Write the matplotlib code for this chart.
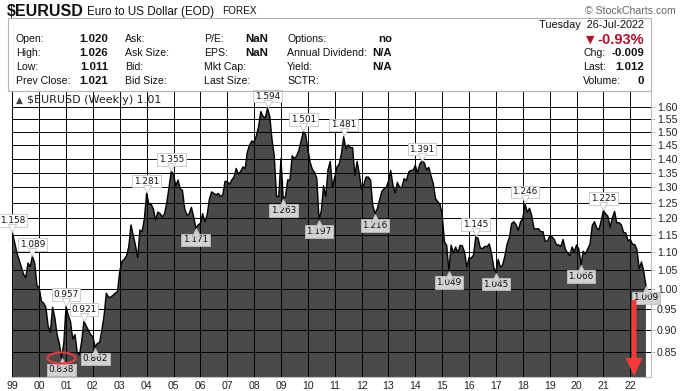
import matplotlib
matplotlib.use('Agg')

import matplotlib.pyplot as plt
import matplotlib.transforms as mtransforms
from matplotlib.patches import Rectangle, Ellipse, FancyArrowPatch, ArrowStyle
from matplotlib.ticker import NullLocator, FixedLocator

W, H = 682, 391

# EURUSD weekly close, read off the chart once a month:
# first value = first week of Jan 1999, then month-end closes up to Jul 2022
FIRST_YEAR = 1999
closes = [
    1.158,
    1.130, 1.100, 1.080, 1.060, 1.040, 1.030, 1.070, 1.060, 1.089, 1.070, 1.010, 1.005,  # 1999
    0.970, 0.965, 0.955, 0.910, 0.895, 0.955, 0.930, 0.890, 0.870, 0.838, 0.870, 0.957,  # 2000
    0.935, 0.920, 0.880, 0.890, 0.850, 0.845, 0.875, 0.921, 0.910, 0.900, 0.890, 0.885,  # 2001
    0.862, 0.870, 0.872, 0.900, 0.935, 0.990, 0.980, 0.980, 0.985, 0.990, 0.995, 1.048,  # 2002
    1.075, 1.080, 1.090, 1.115, 1.180, 1.150, 1.120, 1.085, 1.165, 1.160, 1.200, 1.281,  # 2003
    1.245, 1.245, 1.230, 1.195, 1.220, 1.215, 1.205, 1.215, 1.250, 1.300, 1.355, 1.345,  # 2004
    1.305, 1.325, 1.295, 1.290, 1.230, 1.210, 1.215, 1.235, 1.205, 1.171, 1.180, 1.185,  # 2005
    1.215, 1.190, 1.210, 1.260, 1.285, 1.280, 1.275, 1.280, 1.270, 1.275, 1.320, 1.320,  # 2006
    1.310, 1.325, 1.335, 1.365, 1.345, 1.355, 1.370, 1.365, 1.425, 1.450, 1.465, 1.460,  # 2007
    1.485, 1.520, 1.580, 1.560, 1.555, 1.594, 1.560, 1.470, 1.410, 1.270, 1.270, 1.400,  # 2008
    1.263, 1.270, 1.325, 1.325, 1.410, 1.400, 1.410, 1.430, 1.465, 1.501, 1.490, 1.435,  # 2009
    1.387, 1.362, 1.351, 1.330, 1.197, 1.223, 1.305, 1.270, 1.360, 1.390, 1.300, 1.335,  # 2010
    1.370, 1.380, 1.418, 1.481, 1.435, 1.450, 1.440, 1.440, 1.340, 1.390, 1.345, 1.295,  # 2011
    1.310, 1.335, 1.335, 1.325, 1.240, 1.216, 1.230, 1.258, 1.285, 1.296, 1.300, 1.320,  # 2012
    1.358, 1.307, 1.282, 1.317, 1.300, 1.300, 1.330, 1.322, 1.352, 1.358, 1.359, 1.376,  # 2013
    1.349, 1.381, 1.391, 1.385, 1.360, 1.369, 1.339, 1.313, 1.263, 1.253, 1.245, 1.210,  # 2014
    1.130, 1.120, 1.049, 1.120, 1.098, 1.115, 1.098, 1.120, 1.118, 1.100, 1.058, 1.086,  # 2015
    1.083, 1.093, 1.145, 1.140, 1.113, 1.110, 1.117, 1.116, 1.124, 1.098, 1.059, 1.045,  # 2016
    1.080, 1.058, 1.065, 1.090, 1.124, 1.142, 1.184, 1.190, 1.181, 1.164, 1.190, 1.200,  # 2017
    1.246, 1.219, 1.232, 1.208, 1.169, 1.168, 1.169, 1.160, 1.160, 1.131, 1.133, 1.146,  # 2018
    1.145, 1.137, 1.122, 1.121, 1.117, 1.137, 1.108, 1.099, 1.090, 1.115, 1.102, 1.121,  # 2019
    1.109, 1.066, 1.103, 1.095, 1.110, 1.123, 1.178, 1.190, 1.172, 1.165, 1.193, 1.225,  # 2020
    1.214, 1.207, 1.173, 1.202, 1.222, 1.186, 1.187, 1.181, 1.158, 1.156, 1.133, 1.137,  # 2021
    1.123, 1.122, 1.107, 1.054, 1.073, 1.048, 1.009,                                      # 2022
]

# indices into closes that carry a value label
peak_idx = [0, 9, 24, 32, 60, 71, 114, 130, 148, 183, 207, 229, 264]
trough_idx = [22, 37, 82, 121, 137, 162, 195, 216, 254, 283]

y_ticks = [0.85, 0.90, 0.95, 1.00, 1.05, 1.10, 1.15, 1.20, 1.25,
           1.30, 1.35, 1.40, 1.45, 1.50, 1.55, 1.60]
year_labels = ['99', '00', '01', '02', '03', '04', '05', '06', '07', '08', '09', '10',
               '11', '12', '13', '14', '15', '16', '17', '18', '19', '20', '21', '22']

header_rows = [
    ('Open:', '1.020', 'Ask:', 'P/E:', 'NaN', 'Options:', 'no'),
    ('High:', '1.026', 'Ask Size:', 'EPS:', 'NaN', 'Annual Dividend:', 'N/A'),
    ('Low:', '1.011', 'Bid:', 'Mkt Cap:', '', 'Yield:', 'N/A'),
    ('Prev Close:', '1.021', 'Bid Size:', 'Last Size:', '', 'SCTR:', ''),
]

times = [FIRST_YEAR + k / 12.0 for k in range(len(closes))]

ARIAL = ['Liberation Sans', 'DejaVu Sans']

fig = plt.figure(figsize=(W / 100, H / 100), dpi=100)


def px(x, y):
    return x / W, 1 - y / H


def txt(x, y, s, **kw):
    kw.setdefault('va', 'center')
    kw.setdefault('family', ARIAL)
    kw.setdefault('color', '#111111')
    fig.text(*px(x, y), s, **kw)


# ---- header ----
LAB, VAL = 7.6, 8.2
txt(7, 11, '$EURUSD', fontsize=11.5, weight='bold')
txt(87, 11.5, 'Euro to US Dollar (EOD)', fontsize=8.4)
txt(222, 11.5, 'FOREX', fontsize=7.2)
txt(676, 11, '\u00a9 StockCharts.com', fontsize=7.6, ha='right', color='#666666')

fig.patches.append(Rectangle(px(8, 91), (650.5 - 8) / W, (91 - 17.5) / H,
                             transform=fig.transFigure, fill=False,
                             ec='#b5b5b5', lw=0.8))

row_y = [39.5, 53.5, 67.5, 81.5]
for y, row in zip(row_y, header_rows):
    lab1, val1, lab2, lab3, val3, lab4, val4 = row
    txt(16, y, lab1, fontsize=LAB)
    txt(108, y, val1, fontsize=VAL, weight='bold', ha='right')
    txt(125, y, lab2, fontsize=LAB)
    txt(204, y, lab3, fontsize=LAB)
    txt(268, y, val3, fontsize=VAL, weight='bold', ha='right')
    txt(287, y, lab4, fontsize=LAB)
    txt(392, y, val4, fontsize=VAL, weight='bold', ha='right')

txt(644, 24.5, 'Tuesday  26-Jul-2022', fontsize=7.8, ha='right')
txt(644, 39.5, '-0.93%', fontsize=10.5, weight='bold', ha='right', color='#b0102c')
txt(590, 39.5, '\u25bc', fontsize=8, ha='center', color='#b0102c', family=['DejaVu Sans'])
for y, lab, val in [(53.5, 'Chg:', '-0.009'), (67.5, 'Last:', '1.012'), (81.5, 'Volume:', '0')]:
    txt(583, y, lab, fontsize=LAB)
    txt(644, y, val, fontsize=VAL, weight='bold', ha='right')

# ---- price panel ----
left, right, top, bottom = 11.7, 650.5, 91, 376.5
ax = fig.add_axes([left / W, 1 - bottom / H, (right - left) / W, (bottom - top) / H])

ax.fill_between(times, closes, 0.5, color='#4a4a4a', lw=0, zorder=1)
ax.plot(times, closes, color='black', lw=1.0, zorder=2)

ax.set_yscale('log')
ax.set_ylim(0.799, 1.666)
ax.set_xlim(1998.978, 2022.752)

ax.yaxis.set_major_locator(FixedLocator(y_ticks))
ax.yaxis.set_minor_locator(NullLocator())
ax.set_yticklabels(['%.2f' % v for v in y_ticks])
ax.yaxis.tick_right()
ax.tick_params(axis='y', direction='out', length=3, width=0.6, color='#aaaaaa',
               pad=1.5, labelsize=7.6, labelcolor='#222222')

years = [FIRST_YEAR + i for i in range(len(year_labels))]
ax.set_xticks(years)
ax.set_xticklabels(year_labels)
ax.tick_params(axis='x', length=0, pad=3, labelsize=7.6, labelcolor='#222222')
for lab in ax.get_xticklabels() + ax.get_yticklabels():
    lab.set_family(ARIAL)

ax.set_axisbelow(False)
ax.grid(True, color=(0, 0, 0, 0.14), lw=0.7)
for s in ax.spines.values():
    s.set_color('#c0c0c0')
    s.set_linewidth(0.8)

# legend line
ax.text(0.007, 0.982, '\u25b2', transform=ax.transAxes, fontsize=6.5, color='#444444',
        va='top', ha='left')
ax.text(0.024, 0.986, '$EURUSD (Weekly) 1.01', transform=ax.transAxes, fontsize=8,
        family='DejaVu Sans', color='#222222', va='top', ha='left')

# value labels on swing highs and lows
up = mtransforms.offset_copy(ax.transData, fig=fig, y=4.5, units='dots')
down = mtransforms.offset_copy(ax.transData, fig=fig, y=-4.5, units='dots')
for k in peak_idx:
    t, v = times[k], closes[k]
    ax.annotate('%.3f' % v, (t, v), xytext=(0, 8.6), textcoords='offset points',
                ha='center', va='center', fontsize=6.4, family='DejaVu Sans', color='#111111',
                bbox=dict(boxstyle='square,pad=0.2', fc='white', ec='#c4c4c4', lw=0.6),
                zorder=5, annotation_clip=False)
    ax.plot([t], [v], marker='v', ms=6, mfc='white', mec='#c4c4c4', mew=0.6,
            transform=up, zorder=6, clip_on=False)
for k in trough_idx:
    t, v = times[k], closes[k]
    ax.annotate('%.3f' % v, (t, v), xytext=(0, -8.6), textcoords='offset points',
                ha='center', va='center', fontsize=6.4, family='DejaVu Sans', color='#111111',
                bbox=dict(boxstyle='square,pad=0.2', fc='#d2d2d2', ec='#bdbdbd', lw=0.6),
                zorder=5, annotation_clip=False)
    ax.plot([t], [v], marker='^', ms=6, mfc='#d2d2d2', mec='#bdbdbd', mew=0.6,
            transform=down, zorder=6, clip_on=False)

# red circle round the 2000 low
low_k = trough_idx[0]
ring = Ellipse((0, 0), 0.28, 0.11, fill=False, ec='#e8383a', lw=1.6, zorder=7,
               transform=fig.dpi_scale_trans +
               mtransforms.ScaledTranslation(times[low_k], closes[low_k], ax.transData))
ax.add_patch(ring)

# red arrow pointing down at the end
arrow = FancyArrowPatch((2022.14, 0.973), (2022.14, 0.800),
                        arrowstyle=ArrowStyle.Simple(head_length=13, head_width=12,
                                                     tail_width=3.4),
                        mutation_scale=1, color='#ff3838', lw=0, zorder=8,
                        shrinkA=0, shrinkB=0)
ax.add_patch(arrow)

fig.savefig('out.png', dpi=100)
